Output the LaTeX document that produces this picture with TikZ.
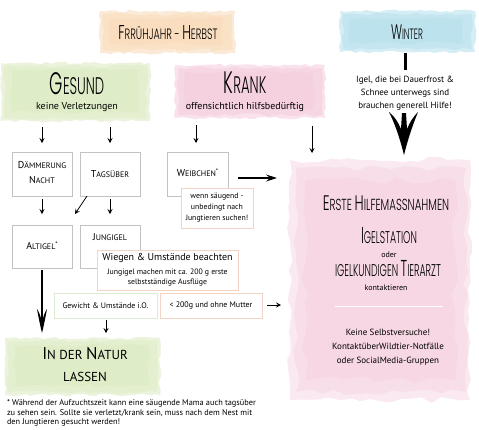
\documentclass[tikz,border=0pt]{standalone}
\usepackage{fontspec}
\setmainfont{PT Sans}
\newfontfamily\hand[FakeStretch=0.55]{Poppins Light}
\newfontfamily\handw[FakeStretch=0.64]{Poppins Light}
\usetikzlibrary{arrows.meta,decorations.pathmorphing,calc}
\definecolor{brOrange}{HTML}{F9D6B0}
\definecolor{brGreen}{HTML}{D9E9BC}
\definecolor{brPink}{HTML}{F4C6D8}
\definecolor{brBlue}{HTML}{ADDDEA}
\definecolor{boxGray}{HTML}{C2C2C2}
\definecolor{notePeach}{HTML}{F2D3C4}
\definecolor{noteGreen}{HTML}{DCEAD2}
\newcommand\fs[1]{\fontsize{#1}{#1}\selectfont}
\newcommand\fsb[2]{\fontsize{#1}{#2}\selectfont}
\newcommand\myast{\raisebox{3pt}{\fs{6.5}*}}
\newcommand\brush[5]{%
  \fill[#1,opacity=0.5,decorate,decoration={random steps,segment length=5pt,amplitude=1.3pt}] (#2,#3) rectangle (#4,#5);
  \fill[#1,opacity=0.4,decorate,decoration={random steps,segment length=8pt,amplitude=1.6pt}] ($(#2,#3)+(3,3)$) rectangle ($(#4,#5)+(-3,-3)$);
  \fill[#1,opacity=0.35,decorate,decoration={random steps,segment length=9pt,amplitude=2pt}] ($(#2,#3)+(10,7)$) rectangle ($(#4,#5)+(-12,-9)$);
}
\tikzset{
  every node/.style={inner sep=0pt,outer sep=0pt},
  greybox/.style={draw=boxGray,line width=0.7pt,fill=white,minimum width=60pt,minimum height=44pt},
  notebox/.style={draw=notePeach,line width=0.7pt,fill=white,align=center},
  notegreen/.style={draw=noteGreen,line width=0.7pt,fill=white,align=center},
  boxlabel/.style={align=center,font=\fs{8.5}},
  smallarrow/.style={line width=0.8pt,-{Stealth[length=5pt,width=5pt,inset=2pt]}},
  hdr/.style={font=\hand,text depth=0pt},
  sub/.style={font=\fs{10}},
}
\begin{document}
\begin{tikzpicture}[x=1pt,y=-1pt]
\useasboundingbox (0,0) rectangle (479,429);
\fill[white] (0,0) rectangle (479,429);
% brushes
\brush{brOrange}{100}{11}{235}{53}
\brush{brBlue}{340}{11}{475}{52}
\brush{brGreen}{1}{63}{150}{121}
\brush{brPink}{175}{65}{325}{118}
\brush{brGreen}{5}{338}{160}{395}
\fill[brPink,opacity=0.38,decorate,decoration={random steps,segment length=10pt,amplitude=3pt}] (290,160) rectangle (470,400);
\fill[brPink,opacity=0.3,decorate,decoration={random steps,segment length=12pt,amplitude=3pt}] (296,168) rectangle (466,392);
\fill[brPink,opacity=0.25,decorate,decoration={random steps,segment length=14pt,amplitude=4pt}] (305,180) rectangle (455,380);
\draw[white,line width=0.8pt] (335,306) -- (443,306);

% headers
\node[hdr,font=\handw,text height=14pt] (fh) at (168,32) {\fs{20}F\fs{15}RRÜHJAHR - \fs{20}H\fs{15}ERBST};
\node[hdr,text height=15pt] (winter) at (407,32) {\fs{21}W\fs{15}INTER};
\node[hdr,text height=22pt] (gesund) at (77,83) {\fs{31}G\fs{24}ESUND};
\node[sub] (gesundsub) at (77,107) {keine Verletzungen};
\node[hdr,text height=22pt] (krank) at (245,82) {\fs{31}K\fs{24}RANK};
\node[sub] (kranksub) at (245,107) {offensichtlich hilfsbedürftig};

% winter text and arrow
\coordinate (wl1) at (405,53);
\coordinate (wl2) at (405,70);
\draw[line width=3pt] (wl1) -- (wl2);
\node[align=center,font=\fsb{9}{13}] (wintxt) at (405,93) {Igel, die bei Dauerfrost \&\\Schnee unterwegs sind\\brauchen generell Hilfe!};
\coordinate (wtip) at (404,155);
\fill (wtip) .. controls (399,135) and (394,122) .. (389,112)
  .. controls (395,117) and (398,122) .. (401,129)
  -- (402,113) -- (406,113) -- (407,129)
  .. controls (410,122) and (413,117) .. (418,112)
  .. controls (414,122) and (409,135) .. (wtip) -- cycle;

% grey boxes
\node[greybox] (dn) at (42,174) {};
\node[boxlabel,font=\fsb{8.5}{15}] at (42,173) {\fs{10}D\fs{8}ÄMMERUNG\\\fs{10}N\fs{8}ACHT};
\node[greybox] (tag) at (110,174) {};
\node[boxlabel] at (tag) {\fs{10}T\fs{8}AGSÜBER};
\node[greybox,minimum width=61pt] (wei) at (197.5,174) {};
\node[boxlabel] (weitxt) at (197.5,173) {\fs{10}W\fs{8}EIBCHEN\myast};
\node[greybox,minimum height=43pt] (alt) at (42,246.5) {};
\node[boxlabel] at (42,246) {\fs{10}A\fs{8}LTIGEL\myast};
\node[greybox,minimum height=43pt] (jung) at (110,246.5) {};
\node[boxlabel] (jungtxt) at (110,237) {\fs{10}J\fs{8}UNGIGEL};

% notes
\node[notebox,minimum width=72pt,minimum height=40pt,font=\fsb{7.8}{11}] (weinote) at (217,208) {wenn säugend -\\unbedingt nach\\Jungtieren suchen!};
\node[notebox,minimum width=141pt,minimum height=40pt,font=\fsb{7.8}{10}] (wiegen) at (167.5,270) {{\fs{10}Wiegen \& Umstände beachten}\\[4pt]Jungigel machen mit ca. 200 g erste\\selbstständige Ausflüge};
\node[notegreen,minimum width=103pt,minimum height=25pt,font=\fs{8}] (gew) at (105.5,305.5) {Gewicht \& Umstände i.O.};
\node[notebox,minimum width=102pt,minimum height=25pt,font=\fs{8}] (u200) at (211,305.5) {< 200g und ohne Mutter};

% Erste Hilfe
\node[hdr,font=\handw,text height=15pt] (erste) at (386,203) {\fs{21}E\fs{16}RSTE \fs{21}H\fs{16}ILFEMASSNAHMEN};
\node[hdr,text height=16pt] (igelst) at (389,235) {\fs{23}I\fs{17}GELSTATION};
\node[font=\fs{8}] (oder) at (389,255) {oder};
\node[hdr,text height=16pt] (tierarzt) at (388,268) {\fs{17}IGELKUNDIGEN \fs{23}T\fs{17}IERARZT};
\node[font=\fs{8}] (kont) at (386,288) {kontaktieren};
\node[align=center,font=\fsb{9}{14}] (keine) at (388,347) {Keine Selbstversuche!\\KontaktüberWildtier-Notfälle\\oder SocialMedia-Gruppen};

% Natur
\node[font=\fs{17}] (natur) at (85,354) {I\fs{13}N DER \fs{17}N\fs{13}ATUR};
\node[font=\fs{13}] (lassen) at (85,377) {LASSEN};

% footnote
\node[anchor=north west,align=left,font=\fsb{8.3}{9.3}] (foot) at (7,400) {* Während der Aufzuchtszeit kann eine säugende Mama auch tagsüber\\zu sehen sein. Sollte sie verletzt/krank sein, muss nach dem Nest mit\\den Jungtieren gesucht werden!};

% small arrows
\coordinate (a1s) at (42,127); \coordinate (a1e) at (42,143);
\coordinate (a2s) at (110,127); \coordinate (a2e) at (110,143);
\coordinate (a3s) at (196,125); \coordinate (a3e) at (196,143);
\coordinate (a4s) at (312,126); \coordinate (a4e) at (312,153);
\coordinate (a5s) at (42,199); \coordinate (a5e) at (42,214);
\coordinate (a6s) at (87,196); \coordinate (a6e) at (75,214);
\coordinate (a7s) at (110,199); \coordinate (a7e) at (110,214);
\coordinate (a8s) at (106,320); \coordinate (a8e) at (106,333);
\coordinate (a9s) at (267,305); \coordinate (a9e) at (281,305);
\foreach \i in {1,...,9} \draw[smallarrow] (a\i s) -- (a\i e);
\coordinate (wa1) at (238,178); \coordinate (wa2) at (277,178);
\draw[line width=1.3pt,-{Stealth[length=11pt,width=7pt,inset=4pt]}] (wa1) -- (wa2);
% Altigel big arrow
\coordinate (aa1) at (42,270); \coordinate (atip) at (42,333);
\draw[line width=1.5pt] (aa1) -- (42,320);
\fill (atip) .. controls (40,325) and (38.5,317) .. (37,309)
  .. controls (39,312) and (40.5,316) .. (41.2,319) -- (41.2,305) -- (42.8,305) -- (42.8,319)
  .. controls (43.5,316) and (45,312) .. (47,309)
  .. controls (45.5,317) and (44,325) .. (atip) -- cycle;
\end{tikzpicture}
\end{document}
